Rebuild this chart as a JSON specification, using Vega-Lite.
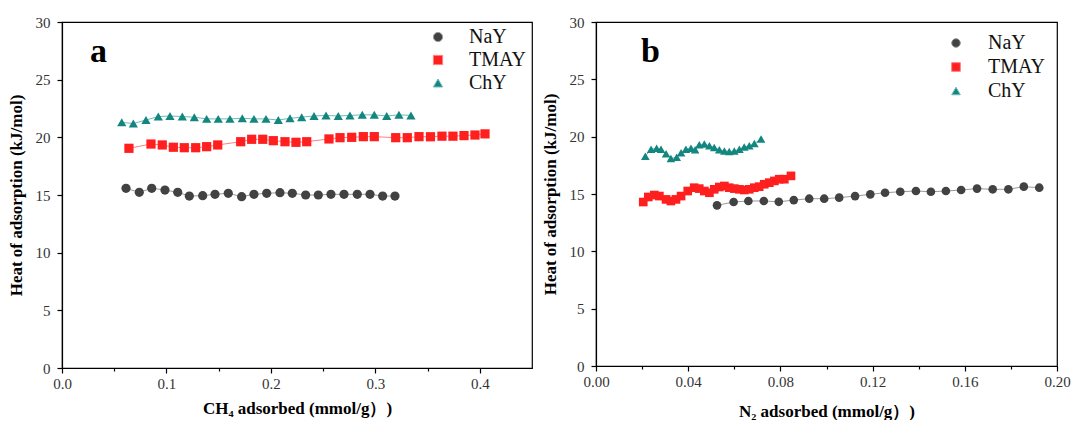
{
  "$schema": "https://vega.github.io/schema/vega-lite/v6.json",
  "background": "white",
  "padding": {"left": 6, "top": 14, "right": 0, "bottom": 0},
  "config": {
    "font": "Liberation Serif",
    "view": {"stroke": "black", "strokeWidth": 1.2},
    "concat": {"spacing": 7},
    "axis": {
      "grid": false,
      "domainColor": "black",
      "domainWidth": 1.2,
      "tickColor": "black",
      "tickWidth": 1.2,
      "labelFont": "Liberation Serif",
      "labelFontSize": 15,
      "labelColor": "#333333",
      "titleFont": "Liberation Serif",
      "titleFontSize": 17,
      "titleFontWeight": "bold",
      "titleColor": "black"
    },
    "legend": {
      "labelFont": "Liberation Serif",
      "labelFontSize": 20,
      "labelColor": "#111111",
      "symbolSize": 85,
      "labelOffset": 21,
      "rowPadding": 3,
      "padding": 0
    }
  },
  "datasets": {
    "a": [
      {"series": "NaY", "x": 0.0613, "y": 15.58}, {"series": "NaY", "x": 0.074, "y": 15.23}, {"series": "NaY", "x": 0.0859, "y": 15.58}, {"series": "NaY", "x": 0.0986, "y": 15.43}, {"series": "NaY", "x": 0.1108, "y": 15.23}, {"series": "NaY", "x": 0.1219, "y": 14.91}, {"series": "NaY", "x": 0.1347, "y": 14.94}, {"series": "NaY", "x": 0.1465, "y": 15.06}, {"series": "NaY", "x": 0.1592, "y": 15.15}, {"series": "NaY", "x": 0.172, "y": 14.85}, {"series": "NaY", "x": 0.1838, "y": 15.06}, {"series": "NaY", "x": 0.196, "y": 15.15}, {"series": "NaY", "x": 0.2087, "y": 15.2}, {"series": "NaY", "x": 0.2205, "y": 15.15}, {"series": "NaY", "x": 0.2333, "y": 15.0}, {"series": "NaY", "x": 0.2454, "y": 15.0}, {"series": "NaY", "x": 0.2575, "y": 15.06}, {"series": "NaY", "x": 0.27, "y": 15.06}, {"series": "NaY", "x": 0.2827, "y": 15.06}, {"series": "NaY", "x": 0.2949, "y": 15.06}, {"series": "NaY", "x": 0.307, "y": 14.91}, {"series": "NaY", "x": 0.3188, "y": 14.91},
      {"series": "TMAY", "x": 0.0641, "y": 19.05}, {"series": "TMAY", "x": 0.0852, "y": 19.42}, {"series": "TMAY", "x": 0.096, "y": 19.34}, {"series": "TMAY", "x": 0.1066, "y": 19.14}, {"series": "TMAY", "x": 0.1171, "y": 19.1}, {"series": "TMAY", "x": 0.128, "y": 19.1}, {"series": "TMAY", "x": 0.1385, "y": 19.19}, {"series": "TMAY", "x": 0.1491, "y": 19.34}, {"series": "TMAY", "x": 0.1711, "y": 19.62}, {"series": "TMAY", "x": 0.1816, "y": 19.83}, {"series": "TMAY", "x": 0.1922, "y": 19.83}, {"series": "TMAY", "x": 0.2023, "y": 19.71}, {"series": "TMAY", "x": 0.2135, "y": 19.62}, {"series": "TMAY", "x": 0.224, "y": 19.57}, {"series": "TMAY", "x": 0.2343, "y": 19.62}, {"series": "TMAY", "x": 0.2556, "y": 19.86}, {"series": "TMAY", "x": 0.2662, "y": 19.97}, {"series": "TMAY", "x": 0.2774, "y": 20.0}, {"series": "TMAY", "x": 0.2885, "y": 20.06}, {"series": "TMAY", "x": 0.299, "y": 20.06}, {"series": "TMAY", "x": 0.3195, "y": 19.97}, {"series": "TMAY", "x": 0.3306, "y": 19.97}, {"series": "TMAY", "x": 0.3418, "y": 20.06}, {"series": "TMAY", "x": 0.3528, "y": 20.05}, {"series": "TMAY", "x": 0.3638, "y": 20.1}, {"series": "TMAY", "x": 0.3743, "y": 20.1}, {"series": "TMAY", "x": 0.3849, "y": 20.15}, {"series": "TMAY", "x": 0.3954, "y": 20.2}, {"series": "TMAY", "x": 0.405, "y": 20.3},
      {"series": "ChY", "x": 0.0572, "y": 21.3}, {"series": "ChY", "x": 0.0683, "y": 21.2}, {"series": "ChY", "x": 0.0804, "y": 21.5}, {"series": "ChY", "x": 0.0922, "y": 21.8}, {"series": "ChY", "x": 0.1034, "y": 21.85}, {"series": "ChY", "x": 0.1152, "y": 21.8}, {"series": "ChY", "x": 0.1267, "y": 21.75}, {"series": "ChY", "x": 0.1385, "y": 21.6}, {"series": "ChY", "x": 0.1496, "y": 21.6}, {"series": "ChY", "x": 0.1608, "y": 21.6}, {"series": "ChY", "x": 0.1726, "y": 21.65}, {"series": "ChY", "x": 0.1838, "y": 21.6}, {"series": "ChY", "x": 0.1953, "y": 21.6}, {"series": "ChY", "x": 0.2071, "y": 21.5}, {"series": "ChY", "x": 0.2183, "y": 21.65}, {"series": "ChY", "x": 0.2295, "y": 21.75}, {"series": "ChY", "x": 0.2413, "y": 21.85}, {"series": "ChY", "x": 0.2528, "y": 21.9}, {"series": "ChY", "x": 0.2645, "y": 21.85}, {"series": "ChY", "x": 0.2757, "y": 21.9}, {"series": "ChY", "x": 0.2875, "y": 21.95}, {"series": "ChY", "x": 0.299, "y": 21.95}, {"series": "ChY", "x": 0.3109, "y": 21.85}, {"series": "ChY", "x": 0.3226, "y": 21.95}, {"series": "ChY", "x": 0.3341, "y": 21.9}
    ],
    "b": [
      {"series": "NaY", "x": 0.0525, "y": 14.01}, {"series": "NaY", "x": 0.0597, "y": 14.3}, {"series": "NaY", "x": 0.0661, "y": 14.39}, {"series": "NaY", "x": 0.0728, "y": 14.39}, {"series": "NaY", "x": 0.0793, "y": 14.32}, {"series": "NaY", "x": 0.0858, "y": 14.47}, {"series": "NaY", "x": 0.0925, "y": 14.59}, {"series": "NaY", "x": 0.099, "y": 14.59}, {"series": "NaY", "x": 0.1055, "y": 14.68}, {"series": "NaY", "x": 0.1124, "y": 14.82}, {"series": "NaY", "x": 0.119, "y": 14.97}, {"series": "NaY", "x": 0.1254, "y": 15.11}, {"series": "NaY", "x": 0.132, "y": 15.2}, {"series": "NaY", "x": 0.1388, "y": 15.26}, {"series": "NaY", "x": 0.1453, "y": 15.2}, {"series": "NaY", "x": 0.1518, "y": 15.26}, {"series": "NaY", "x": 0.1584, "y": 15.35}, {"series": "NaY", "x": 0.1653, "y": 15.47}, {"series": "NaY", "x": 0.1721, "y": 15.41}, {"series": "NaY", "x": 0.1789, "y": 15.41}, {"series": "NaY", "x": 0.1856, "y": 15.64}, {"series": "NaY", "x": 0.1923, "y": 15.55},
      {"series": "TMAY", "x": 0.0205, "y": 14.3}, {"series": "TMAY", "x": 0.0227, "y": 14.74}, {"series": "TMAY", "x": 0.0253, "y": 14.91}, {"series": "TMAY", "x": 0.0275, "y": 14.82}, {"series": "TMAY", "x": 0.0304, "y": 14.53}, {"series": "TMAY", "x": 0.0325, "y": 14.39}, {"series": "TMAY", "x": 0.0347, "y": 14.53}, {"series": "TMAY", "x": 0.0369, "y": 14.82}, {"series": "TMAY", "x": 0.0398, "y": 15.26}, {"series": "TMAY", "x": 0.0426, "y": 15.55}, {"series": "TMAY", "x": 0.0448, "y": 15.47}, {"series": "TMAY", "x": 0.047, "y": 15.26}, {"series": "TMAY", "x": 0.0492, "y": 15.11}, {"series": "TMAY", "x": 0.0513, "y": 15.41}, {"series": "TMAY", "x": 0.0535, "y": 15.61}, {"series": "TMAY", "x": 0.0557, "y": 15.7}, {"series": "TMAY", "x": 0.0578, "y": 15.55}, {"series": "TMAY", "x": 0.06, "y": 15.47}, {"series": "TMAY", "x": 0.0622, "y": 15.41}, {"series": "TMAY", "x": 0.0643, "y": 15.35}, {"series": "TMAY", "x": 0.0665, "y": 15.41}, {"series": "TMAY", "x": 0.0687, "y": 15.55}, {"series": "TMAY", "x": 0.0708, "y": 15.64}, {"series": "TMAY", "x": 0.073, "y": 15.85}, {"series": "TMAY", "x": 0.0752, "y": 15.99}, {"series": "TMAY", "x": 0.0774, "y": 16.14}, {"series": "TMAY", "x": 0.0795, "y": 16.29}, {"series": "TMAY", "x": 0.0817, "y": 16.29}, {"series": "TMAY", "x": 0.0846, "y": 16.58},
      {"series": "ChY", "x": 0.0214, "y": 18.3}, {"series": "ChY", "x": 0.0239, "y": 18.9}, {"series": "ChY", "x": 0.0263, "y": 19.0}, {"series": "ChY", "x": 0.0282, "y": 18.9}, {"series": "ChY", "x": 0.0304, "y": 18.5}, {"series": "ChY", "x": 0.0325, "y": 18.1}, {"series": "ChY", "x": 0.035, "y": 18.2}, {"series": "ChY", "x": 0.0369, "y": 18.6}, {"series": "ChY", "x": 0.039, "y": 18.9}, {"series": "ChY", "x": 0.0412, "y": 19.0}, {"series": "ChY", "x": 0.043, "y": 18.85}, {"series": "ChY", "x": 0.0448, "y": 19.3}, {"series": "ChY", "x": 0.047, "y": 19.35}, {"series": "ChY", "x": 0.0492, "y": 19.2}, {"series": "ChY", "x": 0.0513, "y": 19.05}, {"series": "ChY", "x": 0.0535, "y": 18.85}, {"series": "ChY", "x": 0.0557, "y": 18.75}, {"series": "ChY", "x": 0.0578, "y": 18.7}, {"series": "ChY", "x": 0.06, "y": 18.75}, {"series": "ChY", "x": 0.0622, "y": 18.9}, {"series": "ChY", "x": 0.0643, "y": 19.1}, {"series": "ChY", "x": 0.0665, "y": 19.2}, {"series": "ChY", "x": 0.0687, "y": 19.4}, {"series": "ChY", "x": 0.0716, "y": 19.8}
    ]
  },
  "hconcat": [
    {
      "width": 470,
      "height": 346,
      "layer": [
        {
          "data": {"name": "a"},
          "mark": {"type": "line", "strokeWidth": 1},
          "encoding": {
            "x": {"field": "x", "type": "quantitative", "scale": {"domain": [0, 0.45], "nice": false, "zero": false},
              "axis": {"title": "CH₄ adsorbed (mmol/g）)", "values": [0, 0.05, 0.1, 0.15, 0.2, 0.25, 0.3, 0.35, 0.4], "format": ".1f", "labelPadding": 3, "titlePadding": 9, "tickSize": {"condition": {"test": "round(datum.value*100) % 10 != 0", "value": 3}, "value": 5}, "labelExpr": "round(datum.value*100) % 10 != 0 ? '' : datum.label", "labelFlush": false}},
            "y": {"field": "y", "type": "quantitative", "scale": {"domain": [0, 30], "nice": false},
              "axis": {"title": "Heat of adsorption (kJ/mol)", "values": [0, 2.5, 5, 7.5, 10, 12.5, 15, 17.5, 20, 22.5, 25, 27.5, 30], "labelPadding": 7, "titlePadding": 10, "tickSize": {"condition": {"test": "datum.value % 5 != 0", "value": 3}, "value": 5}, "labelExpr": "datum.value % 5 != 0 ? '' : datum.label", "labelFlush": false}},
            "stroke": {"field": "series", "type": "nominal", "scale": {"domain": ["NaY", "TMAY", "ChY"], "range": ["#9a9a9a", "#ff8080", "#6dbcb6"]},
              "legend": {"title": null, "orient": "top-right", "offset": 5, "symbolSize": 85, "labelOffset": 21,
                "encode": {"symbols": {"update": {
                  "fill": {"signal": "datum.value === 'NaY' ? '#424242' : datum.value === 'TMAY' ? '#ff1f1f' : '#13877f'"},
                  "stroke": {"signal": "datum.value === 'NaY' ? '#9a9a9a' : datum.value === 'TMAY' ? '#ff8080' : '#6dbcb6'"},
                  "strokeWidth": {"value": 1},
                  "opacity": {"value": 1}
                }}}}},
            "detail": {"field": "series"}
          }
        },
        {
          "data": {"name": "a"},
          "mark": {"type": "point", "filled": true, "opacity": 1, "size": 85, "strokeWidth": 0},
          "encoding": {
            "x": {"field": "x", "type": "quantitative"},
            "y": {"field": "y", "type": "quantitative"},
            "fill": {"field": "series", "type": "nominal", "scale": {"domain": ["NaY", "TMAY", "ChY"], "range": ["#424242", "#ff1f1f", "#13877f"]}, "legend": null},
            "shape": {"field": "series", "type": "nominal", "scale": {"domain": ["NaY", "TMAY", "ChY"], "range": ["circle", "square", "triangle-up"]}, "legend": null}
          }
        },
        {
          "data": {"values": [{"label": "a"}]},
          "mark": {"type": "text", "font": "Liberation Serif", "fontSize": 34, "fontWeight": "bold", "align": "left", "baseline": "alphabetic", "color": "black"},
          "encoding": {"x": {"datum": 0.0268}, "y": {"datum": 26.53}, "text": {"field": "label"}}
        }
      ]
    },
    {
      "width": 461,
      "height": 344,
      "layer": [
        {
          "data": {"name": "b"},
          "mark": {"type": "line", "strokeWidth": 1},
          "encoding": {
            "x": {"field": "x", "type": "quantitative", "scale": {"domain": [0, 0.2], "nice": false, "zero": false},
              "axis": {"title": "N₂ adsorbed (mmol/g）)", "values": [0, 0.02, 0.04, 0.06, 0.08, 0.1, 0.12, 0.14, 0.16, 0.18, 0.2], "format": ".2f", "labelPadding": 3, "titlePadding": 14, "tickSize": {"condition": {"test": "round(datum.value*100) % 4 != 0", "value": 3}, "value": 5}, "labelExpr": "round(datum.value*100) % 4 != 0 ? '' : datum.label", "labelFlush": false}},
            "y": {"field": "y", "type": "quantitative", "scale": {"domain": [0, 30], "nice": false},
              "axis": {"title": "Heat of adsorption (kJ/mol)", "values": [0, 2.5, 5, 7.5, 10, 12.5, 15, 17.5, 20, 22.5, 25, 27.5, 30], "labelPadding": 7, "titlePadding": 10, "tickSize": {"condition": {"test": "datum.value % 5 != 0", "value": 3}, "value": 5}, "labelExpr": "datum.value % 5 != 0 ? '' : datum.label", "labelFlush": false}},
            "stroke": {"field": "series", "type": "nominal", "scale": {"domain": ["NaY", "TMAY", "ChY"], "range": ["#9a9a9a", "#ff8080", "#6dbcb6"]},
              "legend": {"title": null, "orient": "top-right", "offset": 11, "rowPadding": 4, "symbolSize": 75, "labelOffset": 22,
                "encode": {"symbols": {"update": {
                  "fill": {"signal": "datum.value === 'NaY' ? '#424242' : datum.value === 'TMAY' ? '#ff1f1f' : '#13877f'"},
                  "stroke": {"signal": "datum.value === 'NaY' ? '#9a9a9a' : datum.value === 'TMAY' ? '#ff8080' : '#6dbcb6'"},
                  "strokeWidth": {"value": 1},
                  "opacity": {"value": 1}
                }}}}},
            "detail": {"field": "series"}
          }
        },
        {
          "data": {"name": "b"},
          "mark": {"type": "point", "filled": true, "opacity": 1, "size": 75, "strokeWidth": 0},
          "encoding": {
            "x": {"field": "x", "type": "quantitative"},
            "y": {"field": "y", "type": "quantitative"},
            "fill": {"field": "series", "type": "nominal", "scale": {"domain": ["NaY", "TMAY", "ChY"], "range": ["#424242", "#ff1f1f", "#13877f"]}, "legend": null},
            "shape": {"field": "series", "type": "nominal", "scale": {"domain": ["NaY", "TMAY", "ChY"], "range": ["circle", "square", "triangle-up"]}, "legend": null}
          }
        },
        {
          "data": {"values": [{"label": "b"}]},
          "mark": {"type": "text", "font": "Liberation Serif", "fontSize": 34, "fontWeight": "bold", "align": "left", "baseline": "alphabetic", "color": "black"},
          "encoding": {"x": {"datum": 0.0195}, "y": {"datum": 26.49}, "text": {"field": "label"}}
        }
      ]
    }
  ],
  "resolve": {
    "scale": {"x": "independent", "y": "independent", "fill": "independent", "shape": "independent", "stroke": "independent"}
  }
}
